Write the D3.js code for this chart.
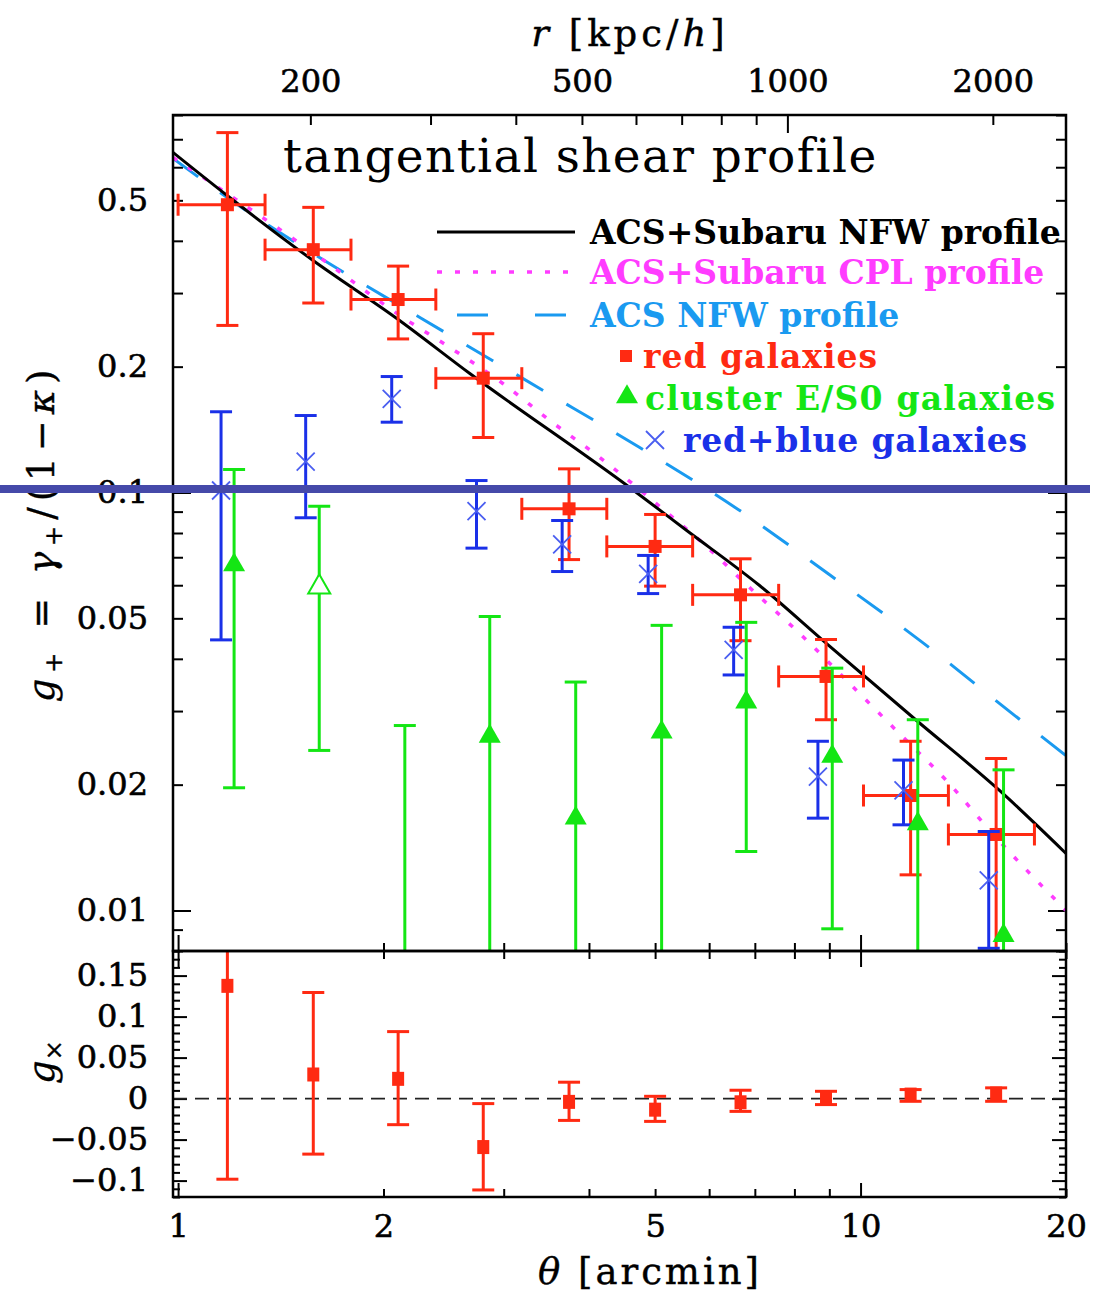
<!DOCTYPE html>
<html>
<head>
<meta charset="utf-8">
<script src="https://cdn.jsdelivr.net/npm/d3@7"></script>
<style>
body { margin: 0; background: #fff; }
svg { display: block; }
.ax text { font-family: "DejaVu Serif", serif; font-size: 32px; stroke: #000; stroke-width: 0.6px; }
.ax .domain { display: none; }
.ax line { stroke-width: 2; }
.lab { font-family: "DejaVu Serif", serif; font-size: 37px; stroke: #000; stroke-width: 0.4px; }
.slab { font-family: "DejaVu Serif", serif; }
</style>
</head>
<body>
<svg id="chart" width="1104" height="1295"></svg>
<script>
// ---- data ----
var kpcPerArcmin = 128;   // conversion used for the top axis

// red galaxies: theta (arcmin), bin edges, g+ and its 1-sigma range
var thetaRed = [1.181, 1.578, 2.101, 2.80, 3.74, 5.00, 6.67, 8.90, 11.84, 15.80];
var thetaLo  = [1.00, 1.341, 1.792, 2.386, 3.189, 4.248, 5.675, 7.586, 10.10, 13.45];
var thetaHi  = [1.341, 1.792, 2.386, 3.189, 4.248, 5.675, 7.586, 10.10, 13.45, 17.98];
var gRed     = [0.488, 0.381, 0.2895, 0.1877, 0.0914, 0.0743, 0.0569, 0.0363, 0.01884, 0.0152];
var gRedHi   = [0.726, 0.481, 0.348, 0.2398, 0.1139, 0.0886, 0.0694, 0.0445, 0.0254, 0.0231];
var gRedLo   = [0.251, 0.284, 0.233, 0.1354, 0.0691, 0.0597, 0.0442, 0.0286, 0.01217, 0.006];

// red+blue galaxies
var thetaBlue = [1.156, 1.538, 2.056, 2.737, 3.654, 4.884, 6.517, 8.66, 11.56, 15.41];
var gBlue     = [0.1011, 0.1186, 0.1675, 0.0902, 0.0751, 0.0639, 0.0420, 0.0209, 0.01937, 0.0118];
var gBlueHi   = [0.156, 0.1528, 0.1894, 0.1068, 0.0857, 0.0707, 0.0476, 0.0254, 0.0229, 0.01545];
var gBlueLo   = [0.0444, 0.087, 0.1473, 0.0736, 0.0647, 0.0573, 0.0366, 0.01663, 0.01603, 0.00812];

// cluster E/S0 galaxies (second point drawn open)
var thetaGreen = [1.208, 1.610, 2.149, 2.862, 3.825, 5.111, 6.80, 9.09, 12.13, 16.20];
var gGreen     = [0.0671, 0.0594, 0.005, 0.0261, 0.01663, 0.0267, 0.0315, 0.02336, 0.01612, 0.00871];
var gGreenHi   = [0.1135, 0.0927, 0.0277, 0.0505, 0.0352, 0.0481, 0.0489, 0.0380, 0.0286, 0.0217];
var gGreenLo   = [0.01966, 0.02415, 0.001, 0.001, 0.001, 0.001, 0.01384, 0.00904, 0.001, 0.001];
var greenOpen  = [false, true, false, false, false, false, false, false, false, false];

// model curves (theta, g+)
var nfwTheta = [0.983, 1.180, 1.577, 2.092, 2.676, 4.590, 5.563, 7.113, 8.918, 12.08, 15.98, 20];
var nfwG     = [0.651, 0.5134, 0.359, 0.2608, 0.1926, 0.1028, 0.0811, 0.0599, 0.0435, 0.02848, 0.01937, 0.01369];
var cplTheta = [0.983, 1.180, 1.598, 2.135, 2.502, 2.991, 3.505, 4.148, 5.200, 5.811, 6.950, 8.142, 9.865, 11.40, 13.36, 15.61, 20];
var cplG     = [0.633, 0.5192, 0.369, 0.2622, 0.2223, 0.1823, 0.1487, 0.1213, 0.0896, 0.0768, 0.0583, 0.0460, 0.0336, 0.0265, 0.02046, 0.01528, 0.0100];
var acsTheta = [0.983, 1.180, 1.577, 2.261, 3.388, 4.747, 6.583, 9.04, 12.32, 16.81, 20];
var acsG     = [0.6295, 0.5078, 0.373, 0.2622, 0.1774, 0.1281, 0.0916, 0.0633, 0.0438, 0.0293, 0.02348];

// cross shear of the red galaxies
var gCross   = [0.1375, 0.0294, 0.0241, -0.0591, -0.0040, -0.0135, -0.0045, 0.0016, 0.0049, 0.0061];
var gCrossHi = [0.30, 0.1294, 0.0817, -0.0061, 0.020, 0.0028, 0.0102, 0.0089, 0.011, 0.0131];
var gCrossLo = [-0.0983, -0.0677, -0.0318, -0.1114, -0.0266, -0.0278, -0.0156, -0.0073, -0.0033, -0.0033];

// ticks
var xTicks   = [1, 2, 3, 4, 5, 6, 7, 8, 9, 10, 20];
var xMajor   = [1, 10];
var xLabels  = [1, 2, 5, 10, 20];
var rTicks   = [200, 300, 400, 500, 600, 700, 800, 900, 1000, 2000];
var rMajor   = [1000];
var rLabels  = [200, 500, 1000, 2000];
var gTicks   = [0.008, 0.009, 0.01, 0.02, 0.03, 0.04, 0.05, 0.06, 0.07, 0.08, 0.09, 0.1, 0.2, 0.3, 0.4, 0.5, 0.6, 0.7, 0.8];
var gMajor   = [0.01, 0.1];
var gLabels  = [0.01, 0.02, 0.05, 0.1, 0.2, 0.5];
var gxTicks  = d3.range(-12, 19).map(function(k) { return k / 100; });
var gxLabels = [-0.1, -0.05, 0, 0.05, 0.1, 0.15];

var legendText = ["ACS+Subaru NFW profile", "ACS+Subaru CPL profile", "ACS NFW profile",
                  "red galaxies", "cluster E/S0 galaxies", "red+blue galaxies"];

// ---- layout ----
var L = 173, R = 1066, T = 115, M = 951, B = 1197;
var RED = "#ff2a12", GREEN = "#14e614", BLUE = "#1a30e8", XBLUE = "#4a5ef0",
    CYAN = "#1a9af0", MAGENTA = "#ff3cff";

var svg = d3.select("#chart");

var x  = d3.scaleLog().domain([0.983, 20]).range([L, R]);
var xr = d3.scaleLog().domain([0.983 * kpcPerArcmin, 20 * kpcPerArcmin]).range([L, R]);
var y  = d3.scaleLog().domain([0.008, 0.8]).range([M, T]);
var y2 = d3.scaleLinear().domain([-0.12, 0.18]).range([B, M]);

var defs = svg.append("defs");
defs.append("clipPath").attr("id", "clipTop").append("rect")
    .attr("x", L).attr("y", T).attr("width", R - L).attr("height", M - T);
defs.append("clipPath").attr("id", "clipBot").append("rect")
    .attr("x", L).attr("y", M).attr("width", R - L).attr("height", B - M);

function near(list, d) {
  return list.some(function(v) { return Math.abs(v - d) < 1e-9; });
}
function fmt(d) { return String(d).replace("-", "\u2212"); }

// ---- axes ----
function addAxis(axis, tx, ty, major, majorLen, attr) {
  var g = svg.append("g").attr("class", "ax")
      .attr("transform", "translate(" + tx + "," + ty + ")")
      .call(axis);
  g.selectAll(".tick line").filter(function(d) { return near(major, d); })
      .attr(attr, majorLen);
  return g;
}

// top panel
addAxis(d3.axisLeft(y).tickValues(gTicks).tickSize(-10).tickPadding(25)
          .tickFormat(function(d) { return near(gLabels, d) ? fmt(d) : ""; }),
        L, 0, gMajor, 18, "x2");
addAxis(d3.axisRight(y).tickValues(gTicks).tickSize(-10).tickFormat(""),
        R, 0, gMajor, -18, "x2");
addAxis(d3.axisTop(xr).tickValues(rTicks).tickSize(-10).tickPadding(23)
          .tickFormat(function(d) { return near(rLabels, d) ? d : ""; }),
        0, T, rMajor, 18, "y2");
addAxis(d3.axisBottom(x).tickValues(xTicks).tickSize(-8).tickFormat(""),
        0, M, xMajor, -16, "y2");

// bottom panel
addAxis(d3.axisTop(x).tickValues(xTicks).tickSize(-8).tickFormat(""),
        0, M, xMajor, 16, "y2");
addAxis(d3.axisBottom(x).tickValues(xTicks).tickSize(-8).tickPadding(17)
          .tickFormat(function(d) { return near(xLabels, d) ? d : ""; }),
        0, B, xMajor, -14, "y2");
addAxis(d3.axisLeft(y2).tickValues(gxTicks).tickSize(-7).tickPadding(25)
          .tickFormat(function(d) { return near(gxLabels, d) ? fmt(+d.toFixed(2)) : ""; }),
        L, 0, gxLabels, 14, "x2");
addAxis(d3.axisRight(y2).tickValues(gxTicks).tickSize(-7).tickFormat(""),
        R, 0, gxLabels, -14, "x2");

// ---- model curves ----
var pTop = svg.append("g").attr("clip-path", "url(#clipTop)");
var curve = d3.line().x(function(d) { return x(d[0]); }).y(function(d) { return y(d[1]); })
    .curve(d3.curveMonotoneX);

pTop.append("path").datum(d3.zip(acsTheta, acsG)).attr("d", curve)
    .attr("fill", "none").attr("stroke", CYAN).attr("stroke-width", 3)
    .attr("stroke-dasharray", "31,27");
pTop.append("path").datum(d3.zip(cplTheta, cplG)).attr("d", curve)
    .attr("fill", "none").attr("stroke", MAGENTA).attr("stroke-width", 3.5)
    .attr("stroke-dasharray", "5,13");
pTop.append("path").datum(d3.zip(nfwTheta, nfwG)).attr("d", curve)
    .attr("fill", "none").attr("stroke", "#000").attr("stroke-width", 3);

// ---- data points ----
var CAP = 11;
function seg(g, x1, y1, x2, y2_, col, w) {
  g.append("line").attr("x1", x1).attr("y1", y1).attr("x2", x2).attr("y2", y2_)
    .attr("stroke", col).attr("stroke-width", w);
}
function vErr(g, px, yLo, yHi, col, w) {
  seg(g, px, yLo, px, yHi, col, w);
  seg(g, px - CAP, yLo, px + CAP, yLo, col, w);
  seg(g, px - CAP, yHi, px + CAP, yHi, col, w);
}

// red galaxies
thetaRed.forEach(function(t, i) {
  var g = pTop.append("g"), px = x(t), py = y(gRed[i]);
  vErr(g, px, y(gRedLo[i]), y(gRedHi[i]), RED, 3);
  seg(g, x(thetaLo[i]), py, x(thetaHi[i]), py, RED, 3);
  seg(g, x(thetaLo[i]), py - CAP, x(thetaLo[i]), py + CAP, RED, 3);
  seg(g, x(thetaHi[i]), py - CAP, x(thetaHi[i]), py + CAP, RED, 3);
  g.append("rect").attr("x", px - 6.5).attr("y", py - 6.5).attr("width", 13).attr("height", 13)
    .attr("fill", RED);
});

// red+blue galaxies
thetaBlue.forEach(function(t, i) {
  var g = pTop.append("g"), px = x(t), py = y(gBlue[i]);
  vErr(g, px, y(gBlueLo[i]), y(gBlueHi[i]), BLUE, 3);
  g.append("path").attr("d", "M" + (px - 9) + "," + (py - 9) + "L" + (px + 9) + "," + (py + 9) +
      "M" + (px - 9) + "," + (py + 9) + "L" + (px + 9) + "," + (py - 9))
    .attr("stroke", XBLUE).attr("stroke-width", 1.8).attr("fill", "none");
});

// cluster E/S0 galaxies
var tri = d3.symbol().type(d3.symbolTriangle).size(210);
thetaGreen.forEach(function(t, i) {
  var g = pTop.append("g"), px = x(t), py = y(gGreen[i]);
  vErr(g, px, y(gGreenLo[i]), y(gGreenHi[i]), GREEN, 3);
  g.append("path").attr("d", tri).attr("transform", "translate(" + px + "," + py + ")")
    .attr("fill", greenOpen[i] ? "#fff" : GREEN)
    .attr("stroke", GREEN).attr("stroke-width", greenOpen[i] ? 2 : 0);
});

// cross shear panel
var pBot = svg.append("g").attr("clip-path", "url(#clipBot)");
pBot.append("line").attr("x1", L).attr("x2", R).attr("y1", y2(0)).attr("y2", y2(0))
  .attr("stroke", "#222").attr("stroke-width", 1.8).attr("stroke-dasharray", "14,8");
thetaRed.forEach(function(t, i) {
  var g = pBot.append("g"), px = x(t), py = y2(gCross[i]);
  vErr(g, px, y2(gCrossLo[i]), y2(gCrossHi[i]), RED, 3);
  g.append("rect").attr("x", px - 6).attr("y", py - 7).attr("width", 12).attr("height", 14)
    .attr("fill", RED);
});

// frames
svg.append("rect").attr("x", L).attr("y", T).attr("width", R - L).attr("height", M - T)
  .attr("fill", "none").attr("stroke", "#000").attr("stroke-width", 2.5);
svg.append("rect").attr("x", L).attr("y", M).attr("width", R - L).attr("height", B - M)
  .attr("fill", "none").attr("stroke", "#000").attr("stroke-width", 2.5);

// ---- title and legend ----
svg.append("text").attr("class", "slab").attr("x", 283).attr("y", 172)
  .attr("font-size", 47).attr("letter-spacing", 1.4)
  .text("tangential shear profile");

var legY = [232, 272, 315, 356, 398, 440];
var legX = [590, 590, 590, 643, 645, 683];
var legSp = [0, 0, 0, 1, 1.2, 0.8];
var legCol = ["#000", MAGENTA, CYAN, RED, GREEN, BLUE];
seg(svg, 437, legY[0], 575, legY[0], "#000", 3);
svg.append("line").attr("x1", 437).attr("x2", 575).attr("y1", legY[1]).attr("y2", legY[1])
  .attr("stroke", MAGENTA).attr("stroke-width", 3.5).attr("stroke-dasharray", "5,13");
svg.append("line").attr("x1", 437).attr("x2", 575).attr("y1", legY[2]).attr("y2", legY[2])
  .attr("stroke", CYAN).attr("stroke-width", 3).attr("stroke-dasharray", "0,20,31,27");
svg.append("rect").attr("x", 620).attr("y", legY[3] - 6).attr("width", 12).attr("height", 12)
  .attr("fill", RED);
svg.append("path").attr("d", tri).attr("transform", "translate(627," + (legY[4] - 1) + ")")
  .attr("fill", GREEN);
svg.append("path").attr("d", "M646," + (legY[5] - 9) + "L664," + (legY[5] + 9) +
    "M646," + (legY[5] + 9) + "L664," + (legY[5] - 9))
  .attr("stroke", XBLUE).attr("stroke-width", 1.8);

svg.selectAll(".legtext").data(legendText).enter().append("text")
  .attr("class", "slab").attr("font-weight", "bold").attr("font-size", 33)
  .attr("x", function(d, i) { return legX[i]; })
  .attr("y", function(d, i) { return legY[i]; })
  .attr("dy", "0.36em")
  .attr("letter-spacing", function(d, i) { return legSp[i]; })
  .attr("fill", function(d, i) { return legCol[i]; })
  .text(function(d) { return d; });

// ---- axis titles ----
var topLab = svg.append("text").attr("class", "lab").attr("x", 630).attr("y", 46)
  .attr("text-anchor", "middle").attr("letter-spacing", 4);
topLab.append("tspan").attr("font-style", "italic").text("r");
topLab.append("tspan").text(" [kpc/");
topLab.append("tspan").attr("font-style", "italic").text("h");
topLab.append("tspan").text("]");

var botLab = svg.append("text").attr("class", "lab").attr("x", 650).attr("y", 1284)
  .attr("text-anchor", "middle").attr("letter-spacing", 3);
botLab.append("tspan").attr("font-style", "italic").text("\u03b8");
botLab.append("tspan").text(" [arcmin]");

var yLab = svg.append("text").attr("class", "lab").attr("text-anchor", "middle")
  .attr("transform", "translate(54,533) rotate(-90)").attr("letter-spacing", 6);
yLab.append("tspan").attr("font-style", "italic").text("g");
yLab.append("tspan").attr("font-size", 24).attr("dy", 8).text("+");
yLab.append("tspan").attr("dy", -8).text(" = ");
yLab.append("tspan").attr("font-style", "italic").text("\u03b3");
yLab.append("tspan").attr("font-size", 24).attr("dy", 8).text("+");
yLab.append("tspan").attr("dy", -8).text("/(1\u2212");
yLab.append("tspan").attr("font-style", "italic").text("\u03ba");
yLab.append("tspan").text(")");

var yLab2 = svg.append("text").attr("class", "lab").attr("text-anchor", "middle")
  .attr("transform", "translate(54,1062) rotate(-90)");
yLab2.append("tspan").attr("font-style", "italic").text("g");
yLab2.append("tspan").attr("font-size", 24).attr("dy", 8).text("\u00d7");

// overlay bar across the figure
svg.append("line").attr("x1", 0).attr("x2", 1090).attr("y1", 489).attr("y2", 489)
  .attr("stroke", "#4549a9").attr("stroke-width", 8);
</script>
</body>
</html>
